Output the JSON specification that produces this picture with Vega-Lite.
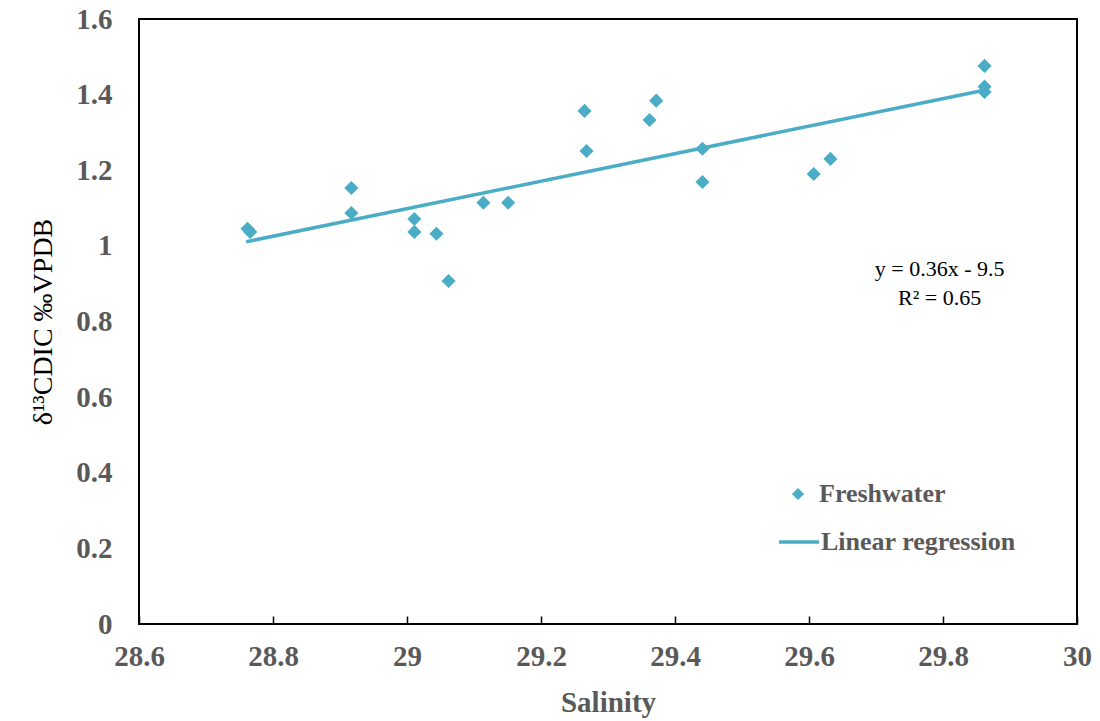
{
  "$schema": "https://vega.github.io/schema/vega-lite/v6.json",
  "width": 938,
  "height": 605,
  "autosize": {"type": "none"},
  "padding": {"left": 139, "top": 19, "right": 23, "bottom": 97},
  "background": "white",
  "config": {
    "view": {"stroke": "#000000", "strokeWidth": 2},
    "font": "Liberation Serif"
  },
  "datasets": {
    "pts": [
      {"salinity": 28.762, "d13c": 1.045, "series": "Freshwater"},
      {"salinity": 28.766, "d13c": 1.037, "series": "Freshwater"},
      {"salinity": 28.917, "d13c": 1.153, "series": "Freshwater"},
      {"salinity": 28.917, "d13c": 1.087, "series": "Freshwater"},
      {"salinity": 29.011, "d13c": 1.071, "series": "Freshwater"},
      {"salinity": 29.011, "d13c": 1.037, "series": "Freshwater"},
      {"salinity": 29.044, "d13c": 1.032, "series": "Freshwater"},
      {"salinity": 29.062, "d13c": 0.907, "series": "Freshwater"},
      {"salinity": 29.114, "d13c": 1.114, "series": "Freshwater"},
      {"salinity": 29.151, "d13c": 1.114, "series": "Freshwater"},
      {"salinity": 29.265, "d13c": 1.357, "series": "Freshwater"},
      {"salinity": 29.268, "d13c": 1.251, "series": "Freshwater"},
      {"salinity": 29.362, "d13c": 1.333, "series": "Freshwater"},
      {"salinity": 29.372, "d13c": 1.384, "series": "Freshwater"},
      {"salinity": 29.441, "d13c": 1.257, "series": "Freshwater"},
      {"salinity": 29.441, "d13c": 1.169, "series": "Freshwater"},
      {"salinity": 29.607, "d13c": 1.190, "series": "Freshwater"},
      {"salinity": 29.632, "d13c": 1.230, "series": "Freshwater"},
      {"salinity": 29.862, "d13c": 1.476, "series": "Freshwater"},
      {"salinity": 29.862, "d13c": 1.421, "series": "Freshwater"},
      {"salinity": 29.862, "d13c": 1.407, "series": "Freshwater"}
    ],
    "fit": [
      {"salinity": 28.76, "d13c": 1.011, "series": "Linear regression"},
      {"salinity": 29.865, "d13c": 1.413, "series": "Linear regression"}
    ],
    "note": [
      {"salinity": 29.795, "d13c": 0.94, "label": "y = 0.36x - 9.5"},
      {"salinity": 29.795, "d13c": 0.862, "label": "R² = 0.65"}
    ]
  },
  "layer": [
    {
      "data": {"name": "fit"},
      "mark": {"type": "line", "strokeWidth": 3.5},
      "encoding": {
        "x": {"field": "salinity", "type": "quantitative"},
        "y": {"field": "d13c", "type": "quantitative"},
        "color": {
          "field": "series",
          "type": "nominal",
          "scale": {"domain": ["Linear regression"], "range": ["#4BACC6"]},
          "legend": {
            "title": null,
            "orient": "none",
            "legendX": 638,
            "legendY": 501,
            "labelFont": "Liberation Serif",
            "labelFontSize": 26,
            "labelFontWeight": "bold",
            "labelColor": "#595959",
            "labelLimit": 400,
            "labelOffset": 0,
            "symbolType": "stroke",
            "symbolSize": 1600,
            "symbolStrokeWidth": 3.5
          }
        }
      }
    },
    {
      "data": {"name": "pts"},
      "mark": {"type": "point", "filled": true, "opacity": 1, "color": "#4BACC6", "size": 200},
      "encoding": {
        "x": {
          "field": "salinity",
          "type": "quantitative",
          "scale": {"domain": [28.6, 30], "nice": false, "zero": false},
          "axis": {
            "title": "Salinity",
            "values": [28.6, 28.8, 29, 29.2, 29.4, 29.6, 29.8, 30],
            "format": "~g",
            "labelFlush": false,
            "grid": false,
            "domain": false,
            "ticks": true,
            "tickSize": -8,
            "tickColor": "#000000",
            "tickWidth": 1.5,
            "labelPadding": 26,
            "labelFont": "Liberation Serif",
            "labelFontSize": 29,
            "labelFontWeight": "bold",
            "labelColor": "#595959",
            "titleFont": "Liberation Serif",
            "titleFontSize": 29,
            "titleFontWeight": "bold",
            "titleColor": "#595959",
            "titlePadding": 17
          }
        },
        "y": {
          "field": "d13c",
          "type": "quantitative",
          "scale": {"domain": [0, 1.6], "nice": false},
          "axis": {
            "title": "δ¹³CDIC ‰VPDB",
            "values": [0, 0.2, 0.4, 0.6, 0.8, 1, 1.2, 1.4, 1.6],
            "format": "~g",
            "labelFlush": false,
            "grid": false,
            "domain": false,
            "ticks": false,
            "labelPadding": 27,
            "labelFont": "Liberation Serif",
            "labelFontSize": 29,
            "labelFontWeight": "bold",
            "labelColor": "#595959",
            "titleFont": "Liberation Serif",
            "titleFontSize": 28,
            "titleFontWeight": "normal",
            "titleColor": "#000000",
            "titlePadding": 18
          }
        },
        "shape": {
          "field": "series",
          "type": "nominal",
          "scale": {"domain": ["Freshwater"], "range": ["diamond"]},
          "legend": {
            "title": null,
            "orient": "none",
            "legendX": 646,
            "legendY": 462,
            "labelFont": "Liberation Serif",
            "labelFontSize": 26,
            "labelFontWeight": "bold",
            "labelColor": "#595959",
            "labelLimit": 400,
            "labelOffset": 8,
            "symbolSize": 150,
            "symbolFillColor": "#4BACC6",
            "symbolStrokeWidth": 0
          }
        }
      }
    },
    {
      "data": {"name": "note"},
      "mark": {"type": "text", "font": "Liberation Serif", "fontSize": 22, "color": "#000000", "align": "center", "baseline": "middle"},
      "encoding": {
        "x": {"field": "salinity", "type": "quantitative"},
        "y": {"field": "d13c", "type": "quantitative"},
        "text": {"field": "label"}
      }
    }
  ]
}
